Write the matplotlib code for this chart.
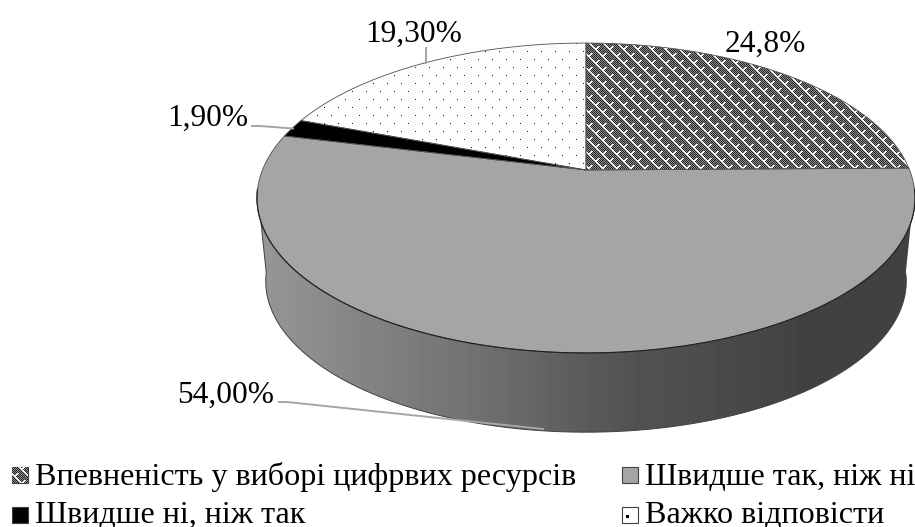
import numpy as np
import matplotlib
matplotlib.use("Agg")
import matplotlib.pyplot as plt
from matplotlib.patches import PathPatch, Rectangle
from matplotlib.path import Path

plt.rcParams["font.family"] = ["Liberation Serif", "DejaVu Serif"]

# ====== DATA ======
categories = ["Впевненість у виборі цифрвих ресурсів", "Швидше так, ніж ні",
              "Швидше ні, ніж так", "Важко відповісти"]
values = [24.8, 54.0, 1.9, 19.3]
value_labels = ["24,8%", "54,00%", "1,90%", "19,30%"]

W, H = 915, 527

# ====== pie geometry (pixels), perspective disc ======
CX = 586
TOP_Y = 170
BOT_Y = 254
A_TOP, K_TOP = 323.6, 149.9
A_BOT, K_BOT = 315.0, 146.0
PERSP = 0.1806


def disc(frac, cy, a, k):
    # frac = share of the circle, clockwise from 12 o'clock
    th = 2 * np.pi * np.asarray(frac)
    u, v = np.sin(th), np.cos(th)
    d = 1 + PERSP * v
    return CX + a * u / d, cy - k * v / d


def poly_path(x, y):
    return Path(np.column_stack([x, y]))


# ====== fill patterns ======
# checker background with white chevrons, 14 px repeat
weave_tile = np.where(np.indices((14, 14)).sum(axis=0) % 2 == 0, 0.15, 0.55)
for r0, c0 in [(0, 0), (7, 7)]:
    for i in range(7):
        for dc in (0, 1):
            weave_tile[(r0 + i) % 14, (c0 + i + dc) % 14] = 1.0
    for j in range(1, 4):
        for dc in (0, 1):
            weave_tile[(r0 + 7 - j) % 14, (c0 + 7 + j + dc) % 14] = 1.0
weave_img = np.tile(weave_tile, (H // 14 + 1, W // 14 + 1))[:H, :W]

dot_tile = np.zeros((16, 14))
dot_tile[3, 9] = 1
dot_tile[11, 2] = 1
dot_img = 0.99 - 0.9 * np.tile(dot_tile, (H // 16 + 1, W // 14 + 1))[:H, :W]

fig = plt.figure(figsize=(W / 100, H / 100), dpi=100)
ax = fig.add_axes([0, 0, 1, 1])
ax.set_xlim(0, W)
ax.set_ylim(H, 0)
ax.axis("off")

# ====== side wall with horizontal gradient ======
t = np.linspace(0.27, 0.73, 200)
# lower half of the bottom disc, clockwise from right extreme to left extreme
xb, yb = disc(t, BOT_Y, A_BOT, K_BOT)
t2 = np.linspace(0.73, 0.27, 200)
xt, yt = disc(t2, TOP_Y, A_TOP, K_TOP)
side_path = poly_path(np.r_[xb, xt], np.r_[yb, yt])
side_patch = PathPatch(side_path, facecolor="none", edgecolor="#404040", lw=0.7, zorder=2)
ax.add_patch(side_patch)

grad_x = [250, 300, 480, 620, 800, 915]
grad_v = [0.60, 0.56, 0.44, 0.33, 0.26, 0.26]
grad = np.interp(np.arange(W), grad_x, grad_v)[None, :]
im = ax.imshow(grad, extent=(0, W, H, 0), cmap="gray", vmin=0, vmax=1, aspect="auto", zorder=1)
im.set_clip_path(side_patch)

# ====== top face ======
starts = np.cumsum([0] + values[:-1]) / 100
ends = np.cumsum(values) / 100


def wedge_path(s, e):
    x, y = disc(np.linspace(s, e, 200), TOP_Y, A_TOP, K_TOP)
    return poly_path(np.r_[CX, x, CX], np.r_[TOP_Y, y, TOP_Y])


# 24.8 %: weave
p0 = PathPatch(wedge_path(starts[0], ends[0]), facecolor="none", edgecolor="none", zorder=3)
ax.add_patch(p0)
im0 = ax.imshow(weave_img, extent=(0, W, H, 0), cmap="gray", vmin=0, vmax=1,
                interpolation="nearest", aspect="auto", zorder=3)
im0.set_clip_path(p0)
# 19.3 %: dots
p3 = PathPatch(wedge_path(starts[3], ends[3]), facecolor="none", edgecolor="none", zorder=3)
ax.add_patch(p3)
im3 = ax.imshow(dot_img, extent=(0, W, H, 0), cmap="gray", vmin=0, vmax=1,
                interpolation="nearest", aspect="auto", zorder=3)
im3.set_clip_path(p3)
# solid ones
ax.add_patch(PathPatch(wedge_path(starts[1], ends[1]), facecolor="#A5A5A5", edgecolor="none", zorder=3))
ax.add_patch(PathPatch(wedge_path(starts[2], ends[2]), facecolor="black", edgecolor="none", zorder=3))
# outlines
for s, e in zip(starts, ends):
    ax.add_patch(PathPatch(wedge_path(s, e), facecolor="none", edgecolor="#505050", lw=0.6, zorder=4))
xf, yf = disc(np.linspace(0.27, 0.73, 200), TOP_Y, A_TOP, K_TOP)
ax.plot(xf, yf, color="#202020", lw=0.8, zorder=4)

# ====== data labels ======
FS = 22.6
ax.text(725, 52, value_labels[0], fontsize=FS, ha="left", va="baseline")
ax.text(177, 403, value_labels[1], fontsize=FS, ha="left", va="baseline")
ax.text(167, 126, value_labels[2], fontsize=FS, ha="left", va="baseline")
ax.text(365, 42, value_labels[3], fontsize=FS, ha="left", va="baseline")

lead = "#A6A6A6"
ax.plot([426, 426], [48, 63], color=lead, lw=1.4, zorder=5)
ax.plot([252, 260, 293], [126, 126, 128.5], color=lead, lw=1.4, zorder=5)
ax.plot([279, 287, 543], [402, 402, 429], color=lead, lw=1.4, zorder=5)

# ====== legend ======
FS_LEG = 23.1
swatch_pos = [(12, 467), (622, 467), (12, 507), (622, 507)]
text_pos = [(35, 485), (645, 485), (35, 523), (645, 523)]
kinds = ["weave", "gray", "black", "dots"]
for cat, (sx, sy), (tx, ty), kind in zip(categories, swatch_pos, text_pos, kinds):
    fc = {"gray": "#A5A5A5", "black": "black"}.get(kind, "white")
    sw = Rectangle((sx, sy), 16, 16, facecolor=fc, edgecolor="#404040", lw=0.8, zorder=3)
    ax.add_patch(sw)
    if kind == "weave":
        sim = ax.imshow(weave_img, extent=(0, W, H, 0), cmap="gray", vmin=0, vmax=1,
                        interpolation="nearest", aspect="auto", zorder=3)
        sim.set_clip_path(sw)
    if kind == "dots":
        ax.add_patch(Rectangle((sx + 4, sy + 8), 3, 3, facecolor="black", edgecolor="none", zorder=4))
    ax.text(tx, ty, cat, fontsize=FS_LEG, ha="left", va="baseline")

ax.set_xlim(0, W)
ax.set_ylim(H, 0)
fig.savefig("out.png", dpi=100)
